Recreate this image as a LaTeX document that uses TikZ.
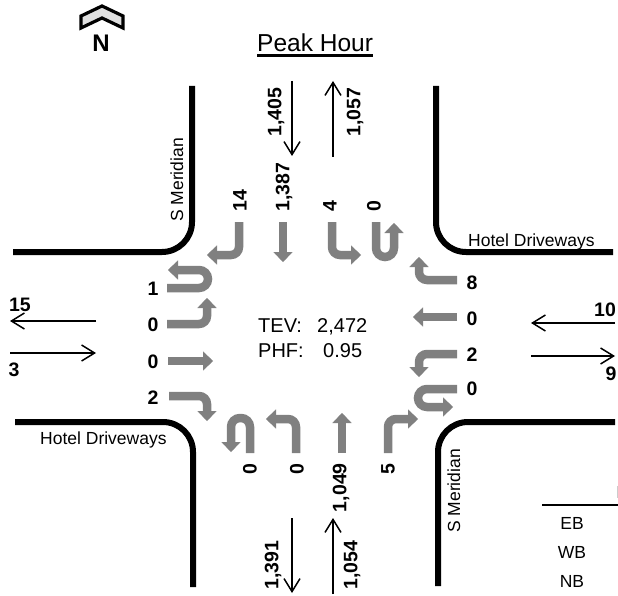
\documentclass[tikz,border=0pt]{standalone}
\usepackage{fontspec}
\setmainfont{Liberation Sans}
\usetikzlibrary{arrows.meta}
\definecolor{mvgray}{RGB}{128,128,128}
\begin{document}
\begin{tikzpicture}[x=1pt,y=-1pt,
  curb/.style={line width=6pt,rounded corners=30pt},
  flow/.style={line width=1.5pt,-{Straight Barb[length=13pt,width=16pt,line width=1.5pt]}},
  move/.style={draw=mvgray,line width=8.5pt,rounded corners=8pt,-{Triangle[width=19pt,length=10pt,line width=0.1pt]}},
  uturn/.style={move,rounded corners=9pt},
  lab/.style={font=\fontsize{19.5}{20}\selectfont\bfseries,inner sep=0pt},
  rlab/.style={lab,rotate=90},
  txt/.style={font=\fontsize{17.5}{20}\selectfont,inner sep=0pt},
  big/.style={font=\fontsize{20}{22}\selectfont,inner sep=0pt}]
\useasboundingbox (0,0) rectangle (618,596);

% north arrow
\filldraw[fill=gray!25,draw=black,line width=3.2pt,line join=miter]
  (81,28) -- (81,16) -- (102,6) -- (123,16) -- (123,28) -- (102,18) -- cycle;
\node[font=\fontsize{24}{26}\selectfont\bfseries,inner sep=0pt,anchor=base] (north) at (101,52) {N};

% title
\node[font=\fontsize{24.5}{26}\selectfont,inner sep=0pt,anchor=base west] (ph) at (257,52) {Peak Hour};
\draw[line width=2.2pt] ([yshift=-3.5pt]ph.base west) -- ([yshift=-3.5pt]ph.base east);

% curbs
\draw[curb] (192,86) -- (192,252) -- (13,252);
\draw[curb] (436,86) -- (436,252) -- (613,252);
\draw[curb] (15,422) -- (193,422) -- (193,587);
\draw[curb] (615,422) -- (438,422) -- (438,586);

% street names
\node[txt,rotate=90,anchor=base west] (smn) at (183,222) {S Meridian};
\node[txt,rotate=90,anchor=base west] (sms) at (460,533) {S Meridian};
\node[txt,anchor=base west] (hde) at (468,246) {Hotel Driveways};
\node[txt,anchor=base west] (hdw) at (40,444) {Hotel Driveways};

% approach volumes (thin arrows)
\coordinate (wa1) at (96,321); \coordinate (wa2) at (10,321);
\coordinate (wb1) at (10,353); \coordinate (wb2) at (96,353);
\coordinate (ea1) at (615,323); \coordinate (ea2) at (531,323);
\coordinate (eb1) at (531,356); \coordinate (eb2) at (615,356);
\coordinate (na1) at (292,81); \coordinate (na2) at (292,156);
\coordinate (nb1) at (333,157); \coordinate (nb2) at (333,81);
\coordinate (sa1) at (292,518); \coordinate (sa2) at (292,593);
\coordinate (sb1) at (333,594); \coordinate (sb2) at (333,518);
\draw[flow] (wa1) -- (wa2);
\draw[flow] (wb1) -- (wb2);
\draw[flow] (ea1) -- (ea2);
\draw[flow] (eb1) -- (eb2);
\draw[flow] (na1) -- (na2);
\draw[flow] (nb1) -- (nb2);
\draw[flow] (sa1) -- (sa2);
\draw[flow] (sb1) -- (sb2);

\node[lab] (v15) at (20,305) {15};
\node[lab] (v3) at (14,370) {3};
\node[lab] (v10) at (605,310) {10};
\node[lab] (v9) at (611,374) {9};
\node[rlab,anchor=west] (v1405) at (276,137) {1,405};
\node[rlab,anchor=west] (v1057) at (355,137) {1,057};
\node[rlab,anchor=west] (v1391) at (273,590) {1,391};
\node[rlab,anchor=west] (v1054) at (352,590) {1,054};

% north approach movements
\draw[move] (239,222) -- (239,255) -- (207,255);
\draw[move] (283,222) -- (283,262);
\draw[move] (332,222) -- (332,255) -- (361,255);
\draw[uturn] (376,222) -- (376,257) -- (394,257) -- (394,223);
\node[rlab,anchor=west] (n14) at (240,212) {14};
\node[rlab,anchor=west] (n1387) at (284,212) {1,387};
\node[rlab,anchor=west] (n4) at (330,212) {4};
\node[rlab,anchor=west] (n0) at (374,212) {0};

% west approach movements
\draw[uturn] (167,288) -- (208,288) -- (208,270) -- (168,270);
\draw[move] (167,324) -- (207,324) -- (207,298);
\draw[move] (168,361) -- (213,361);
\draw[move] (169,396) -- (207,396) -- (207,421);
\node[lab] (w1) at (153,289) {1};
\node[lab] (w0a) at (153,325) {0};
\node[lab] (w0b) at (153,362) {0};
\node[lab] (w2) at (153,398) {2};

% east approach movements
\draw[move] (457,280) -- (419,280) -- (419,257);
\draw[move] (457,317) -- (413,317);
\draw[move] (457,354) -- (419,354) -- (419,377);
\draw[uturn] (457,389) -- (418,389) -- (418,407) -- (453,407);
\node[lab] (e8) at (472,283) {8};
\node[lab] (e0a) at (472,319) {0};
\node[lab] (e2) at (472,355) {2};
\node[lab] (e0b) at (472,389) {0};

% south approach movements
\draw[uturn] (250,453) -- (250,418) -- (231,418) -- (231,452);
\draw[move] (296,453) -- (296,419) -- (266,419);
\draw[move] (342,453) -- (342,413);
\draw[move] (388,453) -- (388,419) -- (418,419);
\node[rlab,anchor=east] (s0a) at (250,463) {0};
\node[rlab,anchor=east] (s0b) at (297,463) {0};
\node[rlab,anchor=east] (s1049) at (341,463) {1,049};
\node[rlab,anchor=east] (s5) at (388,463) {5};

% centre text
\node[big,anchor=base west] (tev) at (258,332) {TEV:};
\node[big,anchor=base west] (tevv) at (317,332) {2,472};
\node[big,anchor=base west] (phf) at (258,357) {PHF:};
\node[big,anchor=base west] (phfv) at (323,357) {0.95};

% legend
\draw[line width=2.8pt] (542,505) -- (618,505);
\draw[gray!40,line width=0.8pt] (617,486) -- (617,498);
\node[txt] (leb) at (572,523) {EB};
\node[txt] (lwb) at (572,552) {WB};
\node[txt] (lnb) at (572,581) {NB};
\end{tikzpicture}
\end{document}
